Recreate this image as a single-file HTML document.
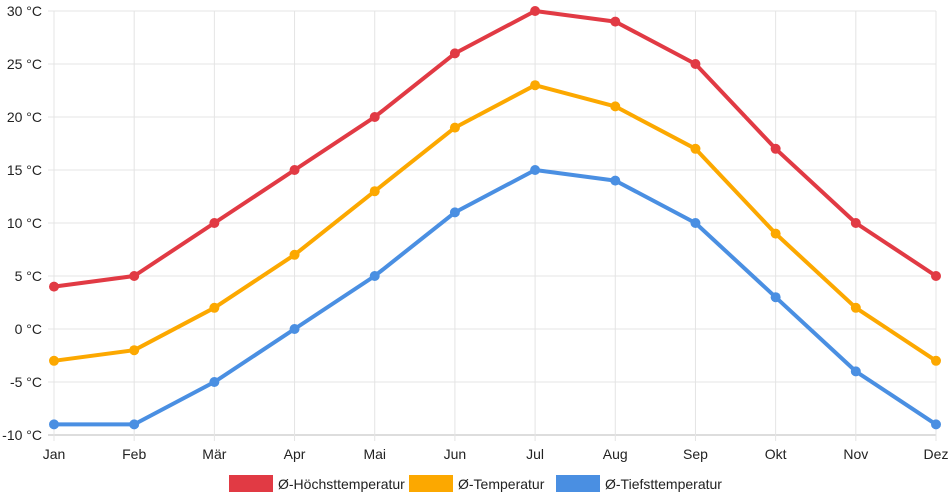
<!DOCTYPE html>
<html><head><meta charset="utf-8"><style>
body{margin:0;background:#fff;font-family:"Liberation Sans",sans-serif}
svg{display:block}
</style></head><body>
<svg id="c" width="952" height="500"></svg>
<script>
const months=["Jan","Feb","Mär","Apr","Mai","Jun","Jul","Aug","Sep","Okt","Nov","Dez"];
const highs=[4,5,10,15,20,26,30,29,25,17,10,5];
const means=[-3,-2,2,7,13,19,23,21,17,9,2,-3];
const lows=[-9,-9,-5,0,5,11,15,14,10,3,-4,-9];
const yTicks=[-10,-5,0,5,10,15,20,25,30];
const seriesNames=["Ø-Höchsttemperatur","Ø-Temperatur","Ø-Tiefsttemperatur"];
const NS="http://www.w3.org/2000/svg";
const svg=document.getElementById('c');
const x0=54,x1=936,yTop=11,yBot=435,yMin=-10,yMax=30;
const xs=i=>x0+i*(x1-x0)/(months.length-1);
const ys=v=>yBot-(v-yMin)*(yBot-yTop)/(yMax-yMin);
function el(t,a){const e=document.createElementNS(NS,t);for(const k in a)e.setAttribute(k,a[k]);svg.appendChild(e);return e;}
yTicks.forEach(v=>{
 const l=el('line',{x1:48,x2:x1,y1:ys(v),y2:ys(v),stroke:v===yMin?'#bbb':'#e4e4e4','stroke-width':1});
 
 
 const t=el('text',{x:42,y:ys(v)+5,'text-anchor':'end','font-size':14,fill:'#222'});
 t.textContent=v+' °C';
 
 
});
months.forEach((m,i)=>{
 const l=el('line',{x1:xs(i),x2:xs(i),y1:yTop,y2:yBot+6,stroke:'#e4e4e4','stroke-width':1});
 
 
 const t=el('text',{x:xs(i),y:459,'text-anchor':'middle','font-size':14,fill:'#222'});
 t.textContent=m;
 
 
});
const colors=["#e13a44","#fca800","#4a8fe2"];
[highs,means,lows].forEach((d,s)=>{
 const p=el('polyline',{points:d.map((v,i)=>xs(i)+','+ys(v)).join(' '),fill:'none',stroke:colors[s],'stroke-width':4,'stroke-linejoin':'round'});
 
 
 d.forEach((v,i)=>{
  const c=el('circle',{cx:xs(i),cy:ys(v),r:5,fill:colors[s]});
  
  
 });
});
const lx=[229,409,556];
seriesNames.forEach((n,s)=>{
 const r=el('rect',{x:lx[s],y:475,width:44,height:17,fill:colors[s]});
 
 
 const t=el('text',{x:lx[s]+49,y:489,'font-size':14,fill:'#222'});
 t.textContent=n;
 
 
});
</script>
</body></html>
